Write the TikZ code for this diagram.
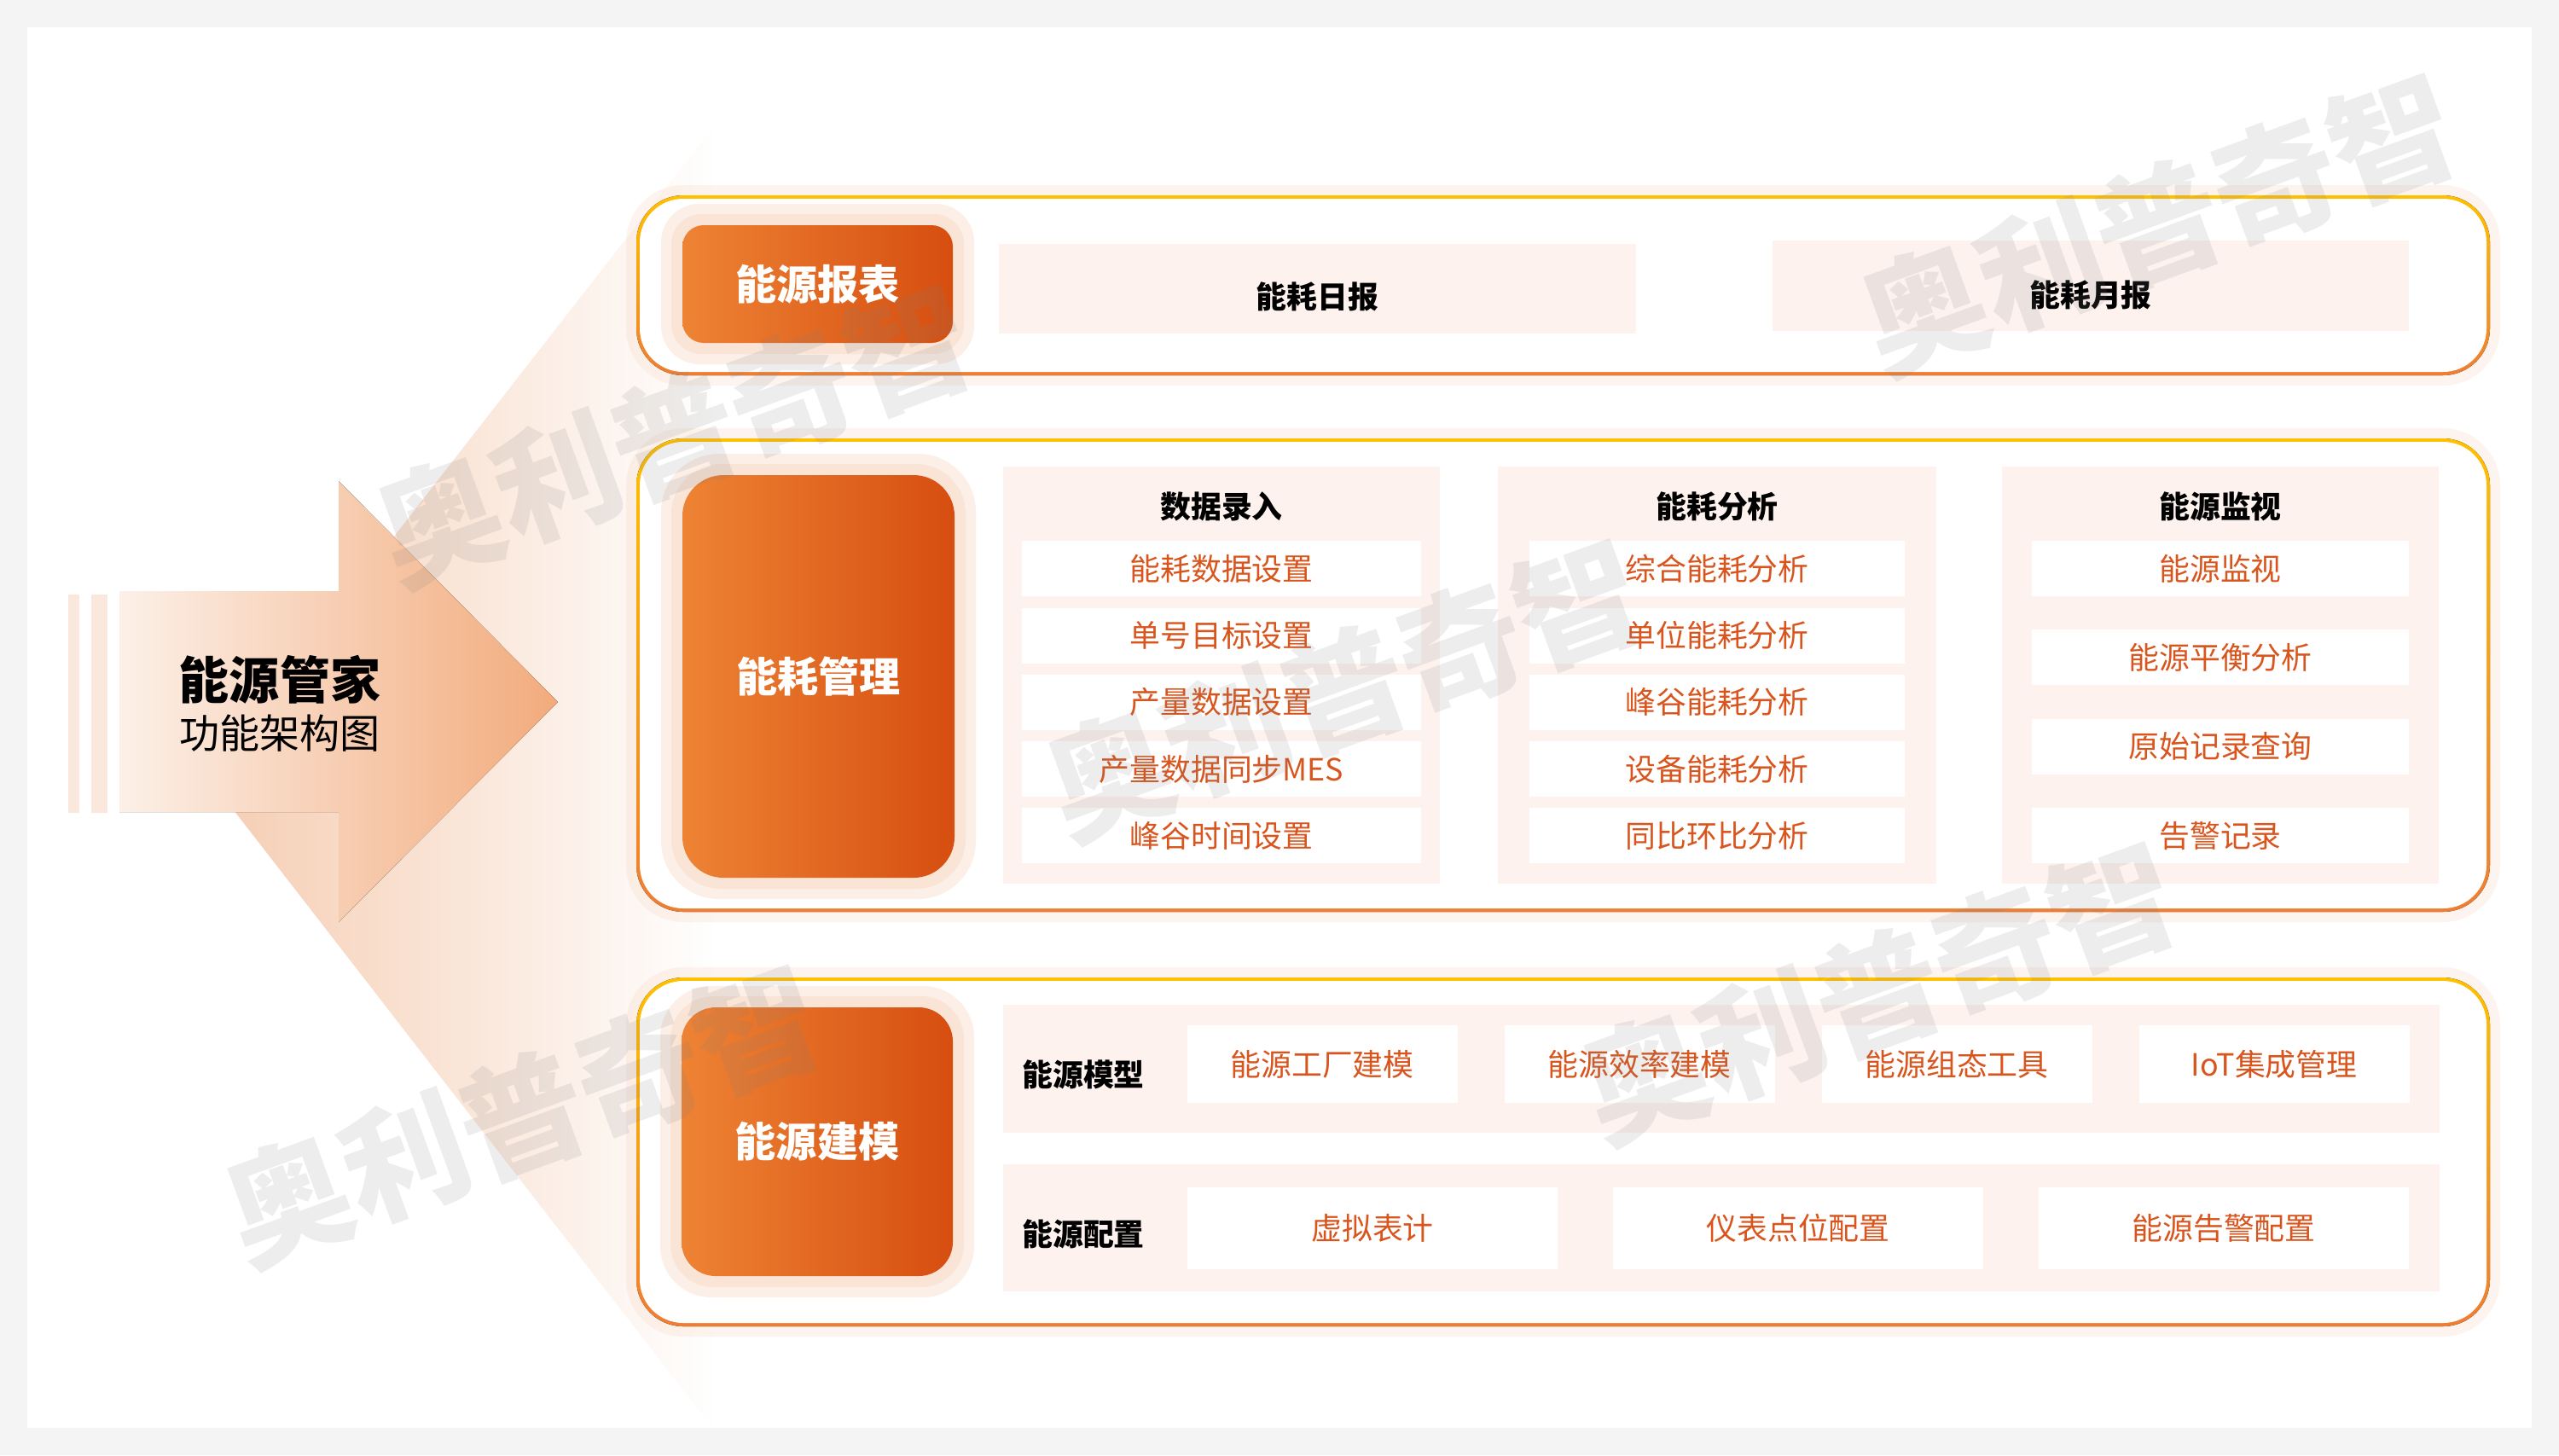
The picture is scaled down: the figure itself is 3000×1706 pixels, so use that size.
\documentclass[tikz,border=0pt]{standalone}
\usepackage{fontspec}
\setmainfont{Noto Sans CJK SC}
\usepackage{xcolor}
\usetikzlibrary{fadings}

\definecolor{BgGray}{HTML}{F4F4F4}
\definecolor{PeachBg}{HTML}{FDF2EE}
\definecolor{Glow}{HTML}{F7CBB0}
\definecolor{Stripe}{HTML}{FBE8DD}
\definecolor{ArrowL}{HTML}{FCF0E8}
\definecolor{ArrowR}{HTML}{F2AB7C}
\definecolor{Wedge}{HTML}{F6CDB2}
\definecolor{BtnL}{HTML}{EE8334}
\definecolor{BtnR}{HTML}{D64E10}
\definecolor{BorderTop}{HTML}{FFC000}
\definecolor{BorderBot}{HTML}{EF7D32}
\definecolor{ItemText}{HTML}{D9551E}

\tikzfading[name=fadeeast, left color=transparent!0, right color=transparent!100]

\tikzset{
	panelglow/.style={draw=Glow, line width=2.4mm, opacity=.2},
	halo/.style={fill=Glow, opacity=.3},
	btn/.style={left color=BtnL, right color=BtnR, text=white, font=\fontsize{13.7}{16}\selectfont\bfseries},
	colbg/.style={fill=PeachBg},
	coltitle/.style={font=\fontsize{10.2}{12}\selectfont\bfseries},
	itembox/.style={fill=white, text=ItemText, font=\fontsize{10.2}{12}\selectfont},
	wmark/.style={text=gray, opacity=.14, rotate=20, font=\fontsize{41.5}{44}\selectfont\bfseries}
}

\begin{document}
\begin{tikzpicture}[x=0.1mm, y=-0.1mm, every node/.style={inner sep=0pt, outer sep=0pt}]
	% page
	\fill[BgGray] (0,0) rectangle (3000,1706);
	\fill[white] (32,32) rectangle (2968,1674);
	\useasboundingbox (0,0) rectangle (3000,1706);

	% light wedge and arrow
	\fill[Wedge, path fading=fadeeast] (243,909) -- (835,149) -- (835,1673) -- cycle;
	\fill[Stripe] (80,697) rectangle (93,953);
	\fill[Stripe] (107,697) rectangle (126,953);
	\fill[left color=ArrowL, right color=ArrowR] (140,693) -- (397,693) -- (397,564) -- (654,823)
		-- (397,1081) -- (397,952) -- (140,952) -- cycle;
	\node[font=\fontsize{16.8}{20}\selectfont\bfseries] (title) at (328,797) {能源管家};
	\node[font=\fontsize{13.4}{16}\selectfont] (subtitle) at (328,860) {功能架构图};

	% panels
	\foreach \ya/\yb in {229/440, 514/1069, 1146/1555} {
		\draw[panelglow, rounded corners=5.5mm] (746,\ya) rectangle (2919,\yb);
		\fill[top color=BorderTop, bottom color=BorderBot, rounded corners=5.5mm] (746,\ya) rectangle (2919,\yb);
		\fill[white, rounded corners=5.1mm] (750,\ya+4) rectangle (2915,\yb-4);
	}

	% halos behind the buttons
	\foreach \cx/\cy/\w/\h/\r in {958.5/333/31.7/13.8/2.5, 959.5/793/31.9/47.2/4.8, 958/1338.5/31.8/31.5/4} {
		\node[halo, rounded corners=\r mm+2mm, minimum width=\w mm+5mm, minimum height=\h mm+5mm] at (\cx,\cy) {};
		\node[halo, rounded corners=\r mm+1mm, minimum width=\w mm+2.6mm, minimum height=\h mm+2.6mm] at (\cx,\cy) {};
	}

	% energy report
	\node[btn, rounded corners=2.5mm, minimum width=31.7mm, minimum height=13.8mm] (bReport) at (958.5,333) {能源报表};
	\node[colbg, minimum width=74.7mm, minimum height=10.5mm] (rDay) at (1544.5,338.5) {};
	\node[colbg, minimum width=74.6mm, minimum height=10.6mm] (rMonth) at (2451,335) {};
	\node[coltitle] (tDay) at (1544.5,348) {能耗日报};
	\node[coltitle] (tMonth) at (2451,346) {能耗月报};

	% energy consumption management
	\node[btn, rounded corners=4.8mm, minimum width=31.9mm, minimum height=47.2mm] (bManage) at (959.5,793) {能耗管理};
	\node[colbg, minimum width=51.2mm, minimum height=48.9mm] (cInput) at (1432,791.5) {};
	\node[colbg, minimum width=51.4mm, minimum height=48.9mm] (cAnalysis) at (2013,791.5) {};
	\node[colbg, minimum width=51.2mm, minimum height=48.9mm] (cMonitor) at (2603,791.5) {};
	\node[coltitle] (tInput) at (1432,594) {数据录入};
	\node[coltitle] (tAnalysis) at (2013,594) {能耗分析};
	\node[coltitle] (tMonitor) at (2603,594) {能源监视};
	\foreach \t [count=\i] in {能耗数据设置, 单号目标设置, 产量数据设置, 产量数据同步MES, 峰谷时间设置}
		\node[itembox, minimum width=46.8mm, minimum height=6.5mm] (in\i) at (1432,588.5+78.25*\i) {\t};
	\foreach \t [count=\i] in {综合能耗分析, 单位能耗分析, 峰谷能耗分析, 设备能耗分析, 同比环比分析}
		\node[itembox, minimum width=44mm, minimum height=6.5mm] (an\i) at (2013,588.5+78.25*\i) {\t};
	\foreach \t [count=\i] in {能源监视, 能源平衡分析, 原始记录查询, 告警记录}
		\node[itembox, minimum width=44.2mm, minimum height=6.5mm] (mo\i) at (2603,562.2+104.33*\i) {\t};

	% energy modelling
	\node[btn, rounded corners=4mm, minimum width=31.8mm, minimum height=31.5mm] (bModel) at (958,1338.5) {能源建模};
	\node[colbg, minimum width=168.4mm, minimum height=15mm] (rowModel) at (2018,1253) {};
	\node[colbg, minimum width=168.4mm, minimum height=14.9mm] (rowConfig) at (2018,1439.5) {};
	\node[coltitle] (lModel) at (1270,1260) {能源模型};
	\node[coltitle] (lConfig) at (1270,1447) {能源配置};
	\foreach \t [count=\i] in {能源工厂建模, 能源效率建模, 能源组态工具, IoT集成管理}
		\node[itembox, minimum width=31.7mm, minimum height=9.1mm] (mdl\i) at (1178+372*\i,1247.5) {\t};
	\foreach \t [count=\i] in {虚拟表计, 仪表点位配置, 能源告警配置}
		\node[itembox, minimum width=43.4mm, minimum height=9.6mm] (cfg\i) at (1110+499*\i,1440) {\t};

	% watermarks
	\foreach \wx/\wy [count=\i] in {790/510, 2530/262, 1575/808, 612/1307, 2202/1163}
		\node[wmark] (wm\i) at (\wx,\wy) {奥利普奇智};
\end{tikzpicture}
\end{document}
